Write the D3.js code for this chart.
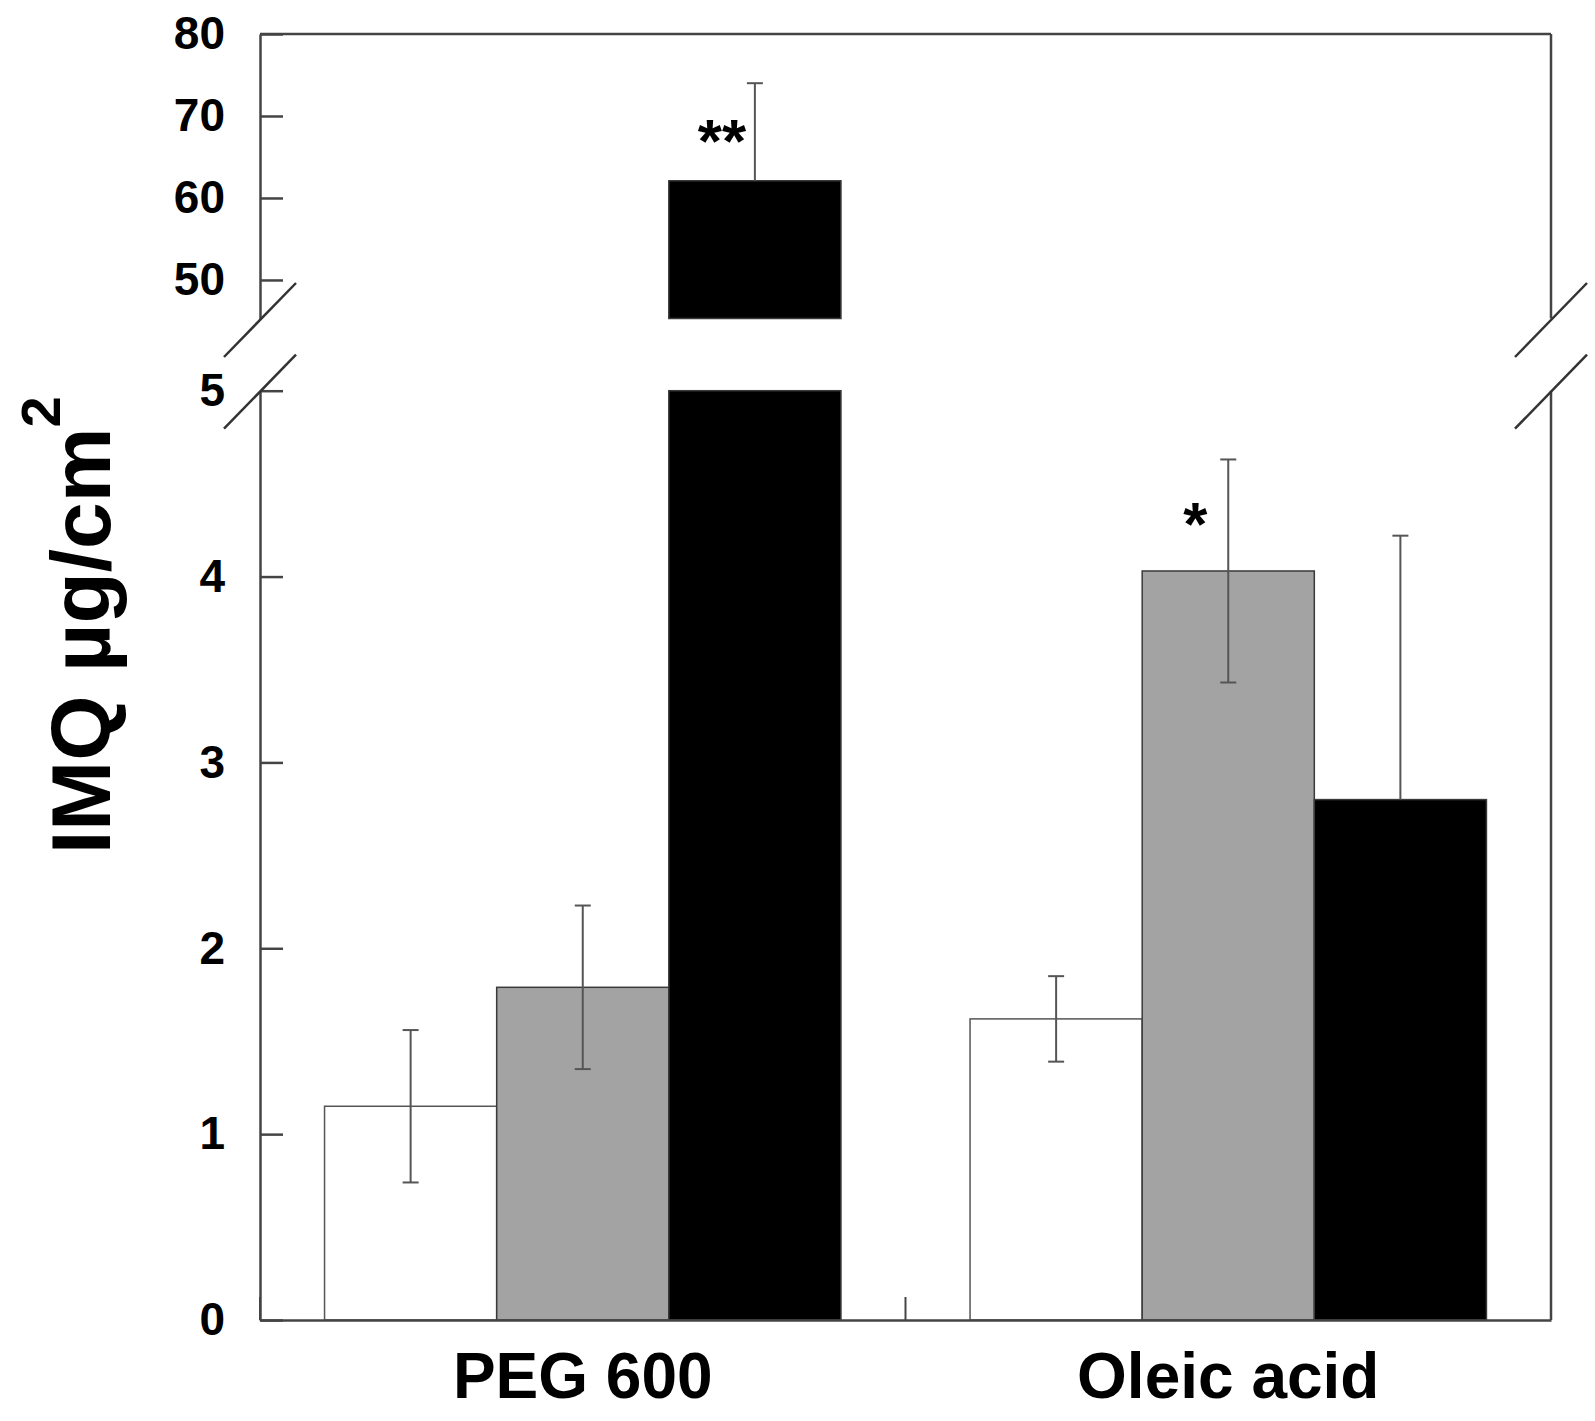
<!DOCTYPE html>
<html>
<head>
<meta charset="utf-8">
<script src="https://cdn.jsdelivr.net/npm/d3@7/dist/d3.min.js"></script>
<style>
  html, body { margin: 0; padding: 0; background: #fff; }
  svg { display: block; }
  text { font-family: "Liberation Sans", Arial, Helvetica, sans-serif; font-weight: bold; fill: #000; }
</style>
</head>
<body>
<script>
// ---------------- data ----------------
const categories = ["PEG 600", "Oleic acid"];
const seriesNames = ["white", "gray", "black"];
const seriesWhite = [1.15, 1.62];
const seriesGray  = [1.79, 4.03];
const seriesBlack = [62.1, 2.80];
const errWhite = [0.41, 0.23];
const errGray  = [0.44, 0.60];
const errBlack = [11.9, 1.42];
const lowerTicks = [0, 1, 2, 3, 4, 5];
const upperTicks = [50, 60, 70, 80];
const lowerDomain = [0, 5];
const upperDomain = [45.3, 80];
const annotCategory = ["PEG 600", "Oleic acid"];
const annotSeries   = ["black", "gray"];
const annotText     = ["**", "*"];
const yLabelMain = "IMQ µg/cm";
const yLabelSup = "2";

// ---------------- styles / layout ----------------
const W = 1595, H = 1421;
const mLeft = 260, mRight = 1551, mTop = 34, mBottom = 1320;
const breakLowY = 390.7, breakUpY = 318.5;
const fills = { white: "#ffffff", gray: "#a3a3a3", black: "#000000" };
const axisColor = "#444";

const values = { white: seriesWhite, gray: seriesGray, black: seriesBlack };
const errs = { white: errWhite, gray: errGray, black: errBlack };
const errBoth = { white: true, gray: true, black: false };

const svg = d3.select("body").append("svg").attr("width", W).attr("height", H);

const x0 = d3.scaleBand().domain(categories).range([mLeft, mRight]).paddingInner(0).paddingOuter(0);
const bw = x0.bandwidth();
const x1 = d3.scaleBand().domain(seriesNames).range([bw * 0.1, bw * 0.9]).padding(0);

const yLow = d3.scaleLinear().domain(lowerDomain).range([mBottom, breakLowY]);
const yUp = d3.scaleLinear().domain(upperDomain).range([breakUpY, mTop]);

// ---------------- bars ----------------
const barData = [];
categories.forEach((c, i) => {
  seriesNames.forEach(s => {
    barData.push({ cat: c, s, v: values[s][i], e: errs[s][i] });
  });
});

const gBars = svg.append("g");
barData.forEach(d => {
  const bx = x0(d.cat) + x1(d.s);
  const w = x1.bandwidth();
  const stroke = d.s === "white" ? "#555" : "#3a3a3a";
  if (d.v > lowerDomain[1]) {
    gBars.append("rect").attr("x", bx).attr("width", w)
      .attr("y", yLow(lowerDomain[1])).attr("height", yLow(0) - yLow(lowerDomain[1]))
      .attr("fill", fills[d.s]).attr("stroke", stroke).attr("stroke-width", 1.5);
    gBars.append("rect").attr("x", bx).attr("width", w)
      .attr("y", yUp(d.v)).attr("height", yUp(upperDomain[0]) - yUp(d.v))
      .attr("fill", fills[d.s]).attr("stroke", stroke).attr("stroke-width", 1.5);
  } else {
    gBars.append("rect").attr("x", bx).attr("width", w)
      .attr("y", yLow(d.v)).attr("height", yLow(0) - yLow(d.v))
      .attr("fill", fills[d.s]).attr("stroke", stroke).attr("stroke-width", 1.5);
  }
});

// ---------------- error bars ----------------
const gErr = svg.append("g").attr("stroke", "#555").attr("stroke-width", 2).attr("fill", "none");
const capW = 16;
barData.forEach(d => {
  const cx = x0(d.cat) + x1(d.s) + x1.bandwidth() / 2;
  const sc = d.v > lowerDomain[1] ? yUp : yLow;
  const yTop = sc(d.v + d.e);
  const yBot = errBoth[d.s] ? sc(d.v - d.e) : sc(d.v);
  gErr.append("line").attr("x1", cx).attr("x2", cx).attr("y1", yTop).attr("y2", yBot);
  gErr.append("line").attr("x1", cx - capW / 2).attr("x2", cx + capW / 2).attr("y1", yTop).attr("y2", yTop);
  if (errBoth[d.s]) {
    gErr.append("line").attr("x1", cx - capW / 2).attr("x2", cx + capW / 2).attr("y1", yBot).attr("y2", yBot);
  }
  d.cx = cx; d.yTop = yTop; d.yBar = sc(d.v);
});

// ---------------- annotations ----------------
annotText.forEach((t, i) => {
  const d = barData.find(b => b.cat === annotCategory[i] && b.s === annotSeries[i]);
  const cy = (d.yTop + d.yBar) / 2;
  const fs = 62;
  svg.append("text").attr("x", d.cx - 33).attr("y", cy + 0.58 * fs - 6)
    .attr("text-anchor", "middle").attr("font-size", fs).text(t);
});

// ---------------- axes ----------------
const axLow = svg.append("g").attr("transform", `translate(${mLeft},0)`)
  .call(d3.axisLeft(yLow).tickValues(lowerTicks).tickSize(-23).tickSizeOuter(0).tickPadding(35).tickFormat(d3.format("d")));
const axUp = svg.append("g").attr("transform", `translate(${mLeft},0)`)
  .call(d3.axisLeft(yUp).tickValues(upperTicks).tickSize(-23).tickSizeOuter(0).tickPadding(35).tickFormat(d3.format("d")));
[axLow, axUp].forEach(a => {
  a.selectAll("path.domain").attr("stroke", axisColor).attr("stroke-width", 2.5);
  a.selectAll(".tick line").attr("stroke", axisColor).attr("stroke-width", 2.5);
  a.selectAll(".tick text").attr("font-size", 46).attr("fill", "#000")
    .style("font-family", '"Liberation Sans", Arial, sans-serif').style("font-weight", "bold");
});

// x axis
const axX = svg.append("g").attr("transform", `translate(0,${mBottom})`)
  .call(d3.axisBottom(x0).tickSize(0).tickSizeOuter(0).tickPadding(33));
axX.selectAll("path.domain").attr("stroke", axisColor).attr("stroke-width", 2.5);
axX.selectAll(".tick text").attr("font-size", 64).attr("fill", "#000")
  .style("font-family", '"Liberation Sans", Arial, sans-serif').style("font-weight", "bold");

// boundary ticks on x axis
const boundaries = categories.map(c => x0(c)).concat([x0(categories[categories.length - 1]) + bw]);
svg.append("g").selectAll("line").data(boundaries).join("line")
  .attr("x1", d => d).attr("x2", d => d).attr("y1", mBottom).attr("y2", mBottom - 23)
  .attr("stroke", axisColor).attr("stroke-width", 2);

// frame: top and right
const frame = svg.append("g").attr("stroke", axisColor).attr("stroke-width", 2.5).attr("fill", "none");
frame.append("line").attr("x1", mLeft).attr("x2", mRight).attr("y1", yUp(upperDomain[1])).attr("y2", yUp(upperDomain[1]));
frame.append("line").attr("x1", mRight).attr("x2", mRight).attr("y1", yUp(upperDomain[1])).attr("y2", yUp(upperDomain[0]));
frame.append("line").attr("x1", mRight).attr("x2", mRight).attr("y1", yLow(lowerDomain[1])).attr("y2", yLow(0));

// break marks
const brk = svg.append("g").attr("stroke", "#333").attr("stroke-width", 2.5);
[mLeft, mRight].forEach(xx => {
  [yUp(upperDomain[0]) + 1.5, yLow(lowerDomain[1]) + 1].forEach(yy => {
    brk.append("line").attr("x1", xx - 36).attr("y1", yy + 37).attr("x2", xx + 36).attr("y2", yy - 37);
  });
});

// y label
const yl = svg.append("text")
  .attr("transform", "translate(110,854) rotate(-90)")
  .attr("text-anchor", "start").attr("font-size", 84);
yl.append("tspan").text(yLabelMain);
yl.append("tspan").attr("font-size", 56).attr("dy", -50).text(yLabelSup);
</script>
</body>
</html>
